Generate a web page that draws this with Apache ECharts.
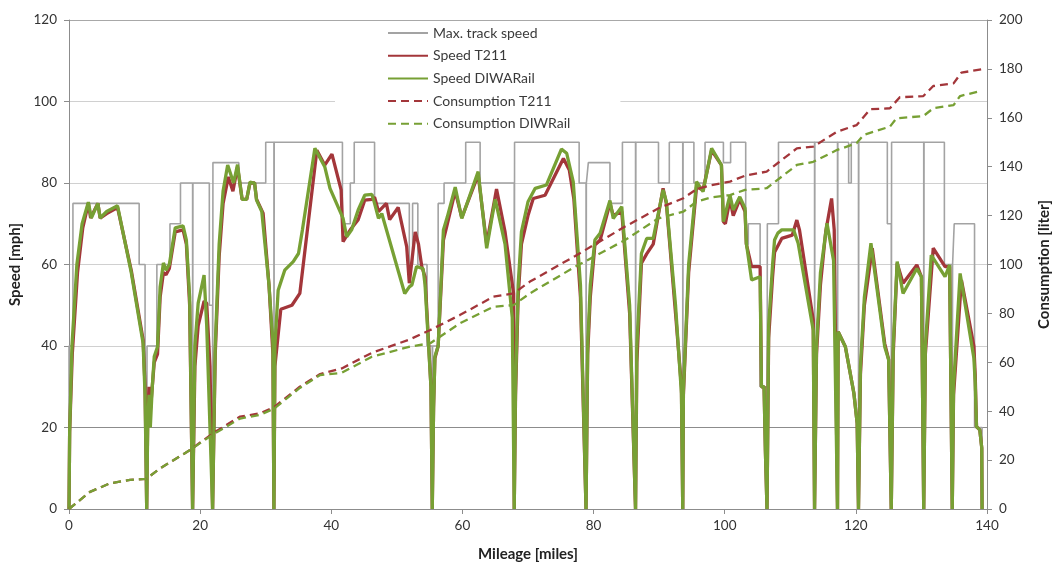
<!DOCTYPE html>
<html>
<head>
<meta charset="utf-8">
<script src="https://cdn.jsdelivr.net/npm/echarts@6/dist/echarts.min.js"></script>
<style>html,body{margin:0;padding:0;background:#fff}#c{width:1053px;height:562px}</style>
</head>
<body>
<div id="c"></div>
<script>
// [mileage, mph]
const trackSpeed = [
[0,0],[0,40],[0.6,40],[0.6,75],[10.7,75],[10.7,60],[11.6,60],[11.6,40],[11.85,40],[11.85,0],[11.9,0],[11.9,40],[13.4,40],[13.4,60],[15.4,60],[15.4,70],[17.0,70],[17.0,80],[18.85,80],[18.85,0],[18.9,0],[18.9,80],[21.4,80],[21.4,50],[21.9,50],[21.9,0],[21.95,0],[21.95,85],[25.9,85],[25.9,80],[30.0,80],[30.0,90],[31.25,90],[31.25,0],[31.3,0],[31.3,90],[41.7,90],[41.7,70],[42.9,70],[42.9,80],[43.5,80],[43.5,90],[46.6,90],[46.6,75],[51.9,75],[51.9,60],[52.4,60],[52.4,75],[53.2,75],[53.2,60],[54.6,60],[54.6,40],[55.4,40],[55.4,0],[55.45,0],[55.45,40],[56.3,40],[56.3,75],[57.2,75],[57.2,80],[60.5,80],[60.5,90],[62.7,90],[62.7,80],[67.9,80],[67.9,0],[67.95,0],[67.95,90],[77.8,90],[77.8,80],[78.85,80],[78.85,0],[78.9,0],[78.9,80],[79.2,80],[79.2,85],[82.5,85],[82.5,75],[84.4,75],[84.4,90],[86.4,90],[86.4,0],[86.45,0],[86.45,90],[89.9,90],[89.9,80],[91.55,80],[91.55,90],[93.6,90],[93.6,0],[93.65,0],[93.65,90],[95.3,90],[95.3,80],[97.0,80],[97.0,90],[99.8,90],[99.8,85],[100.9,85],[100.9,90],[103.2,90],[103.2,65],[103.6,65],[103.6,70],[105.4,70],[105.4,30],[106.45,30],[106.45,0],[106.5,0],[106.5,70],[108.2,70],[108.2,90],[113.7,90],[113.7,0],[113.75,0],[113.75,90],[117.2,90],[117.2,0],[117.25,0],[117.25,90],[118.9,90],[118.9,80],[119.3,80],[119.3,90],[120.4,90],[120.4,0],[120.45,0],[120.45,90],[124.8,90],[124.8,70],[125.4,70],[125.4,0],[125.45,0],[125.45,90],[130.35,90],[130.35,0],[130.4,0],[130.4,90],[133.5,90],[133.5,60],[134.7,60],[134.7,0],[134.75,0],[134.75,60],[135.0,60],[135.0,70],[138.1,70],[138.1,20],[139.25,20],[139.25,0]
];
const speedT211 = [
[0,0],[0.1,19],[0.5,38],[1.3,58],[2.1,69],[2.95,75],[3.3,71.4],[4.4,75],[4.75,71.4],[5.75,72.5],[7.4,74],[9.5,58.5],[11.3,41.5],[11.6,30],[11.85,0],
[12.0,22],[12.2,30],[12.4,24],[12.7,30],[13.0,36],[13.5,38],[13.9,52],[14.4,58],[14.8,57.5],[15.3,59],[16.2,68],[17.4,68.5],[17.9,65],[18.4,50],[18.85,0],
[19.2,35],[19.7,45],[20.6,51],[21.0,50.5],[21.5,35],[21.9,0],
[22.3,38],[22.9,62],[23.5,75],[24.3,81.5],[25.0,78],[25.7,84],[26.4,76],[27.1,76],[27.6,80],[28.3,80],[28.6,76],[29.6,72.6],[30.5,55],[31.1,38],[31.25,0],
[31.4,35],[32.3,49],[34.0,50],[35.2,52.9],[37.8,88],[39.0,84.4],[40.1,87.1],[41.5,78.3],[41.8,65.6],[42.9,68.5],[44.1,71],[45.1,75.8],[46.2,76],[46.6,76.5],[47.2,73],[48.4,75],[48.9,71],[50.2,74],[51.5,64.4],[51.9,55.4],[52.8,68],[53.3,65],[53.8,59.5],[54.3,57],[55.2,30],[55.4,0],
[55.6,25],[55.8,37],[56.3,40],[57.1,66],[57.7,70],[58.9,78],[59.9,71.5],[62.4,82],[63.7,65],[65.2,78.5],[66.5,68],[67.8,52.9],[67.9,0],
[68.1,28],[68.5,52],[69.0,65],[70.0,72],[70.8,76.2],[72.6,77],[75.4,86],[76.3,83.2],[77.0,76],[78.0,52],[78.85,0],
[79.1,38],[79.5,52],[80.2,64.8],[81.0,66],[82.5,75],[83.0,72],[84.3,73],[85.5,48],[86.4,0],
[86.6,36],[87.3,60.3],[88.1,62.6],[89.1,65],[90.6,78.7],[91.1,75],[92.5,48],[93.4,30],[93.6,0],
[93.7,28],[94.5,58],[95.7,79],[96.7,78.3],[98.0,88],[99.5,84.4],[99.8,70.5],[100.1,70],[100.8,76],[101.3,72],[102.3,76],[103.1,73],[103.3,65],[104.1,59.5],[105.4,59.5],[105.6,30],[106.0,30],[106.2,14.5],[106.45,0],
[106.7,42],[107.3,57],[107.6,63],[108.7,66.4],[110.3,67.2],[111.0,70.9],[111.4,68.5],[113.5,46.4],[113.7,0],
[114.0,38],[114.6,55],[115.4,68],[116.3,76.2],[116.7,68.5],[117.2,0],
[117.3,43.5],[118.4,39.8],[119.7,28.4],[120.2,21],[120.4,0],
[120.7,33],[121.3,50],[122.5,64],[124.4,40.6],[125.0,36.7],[125.4,0],
[125.7,38],[126.3,60.3],[127.2,55.4],[129.3,59.9],[130.0,57],[130.35,0],
[130.6,38],[131.8,64],[133.6,59.5],[134.3,59.5],[134.7,0],
[134.9,28],[136.1,56.2],[138.0,40],[138.2,33],[138.4,20.2],[138.9,19.4],[139.2,15],[139.25,0]
];
const speedDIWARail = [
[0,0],[0.1,19],[0.45,40],[1.2,60],[2.0,70],[2.95,75.3],[3.4,71.4],[4.4,75],[4.75,71.4],[5.75,73],[7.4,74.4],[9.5,58],[11.3,40.7],[11.6,28],[11.85,0],
[12.0,20],[12.2,28],[12.4,20],[12.7,30],[13.0,37.4],[13.5,39.8],[13.9,54.5],[14.4,60.4],[14.8,58.6],[15.3,60],[16.2,69],[17.4,69.5],[17.9,66],[18.4,52],[18.85,0],
[19.2,40],[19.7,50.5],[20.6,57.4],[21.0,45],[21.9,0],
[22.3,40],[22.9,65],[23.5,78],[24.2,84.4],[25.1,80],[25.7,84.5],[26.4,76],[27.1,76],[27.6,80.2],[28.3,80],[28.6,75.8],[29.4,73],[30.5,55],[31.1,40.7],[31.25,0],
[31.4,40],[31.9,53.7],[32.9,58.6],[34.2,60.7],[35.0,62.7],[35.6,68.5],[37.5,88.5],[39.0,84],[39.8,78.7],[41.8,71.3],[42.35,66.8],[43.1,68.5],[44.1,73.4],[45.1,77],[46.2,77.2],[46.6,75],[47.2,71.3],[47.7,72.5],[51.2,52.9],[51.9,54.5],[52.3,55],[53.0,59.5],[54.0,59],[54.3,55],[55.2,30],[55.4,0],
[55.6,25],[55.8,37.4],[56.3,40],[57.1,68.5],[57.7,71.7],[58.9,79],[59.9,71.3],[62.4,82.8],[63.7,64],[65.0,76],[66.5,65],[67.6,47],[67.9,0],
[68.1,30],[68.5,55],[69.0,68],[70.0,75.4],[71.1,78.7],[72.8,79.5],[75.1,88.3],[75.9,87.3],[76.9,80.3],[78.0,55],[78.85,0],
[79.1,40],[79.5,55],[80.2,66],[81.0,67.7],[82.5,75.7],[83.0,71.3],[84.3,74.2],[85.5,50],[86.4,0],
[86.6,40],[87.3,62.7],[88.1,66.4],[89.1,66.4],[90.6,78.3],[91.1,75.4],[92.5,50],[93.4,28.4],[93.6,0],
[93.7,29],[94.5,60],[95.7,80.3],[96.7,77.9],[98.0,88.5],[99.5,84.4],[99.8,70.5],[100.1,70.1],[100.8,77],[101.3,73.4],[102.3,76.6],[103.1,73.8],[103.3,65.2],[104.1,56.2],[105.4,57],[105.6,30],[106.0,30],[106.2,14.5],[106.45,0],
[106.7,45],[107.3,60],[107.6,66],[108.1,67.7],[108.7,68.5],[110.5,68.5],[111.2,65.2],[113.5,43.9],[113.7,0],
[114.0,40],[114.6,58],[115.6,70.1],[116.6,61],[117.2,0],
[117.3,43.5],[118.4,39.8],[119.7,28.4],[120.2,21],[120.4,0],
[120.7,35],[121.3,52],[122.3,65.2],[124.4,39.8],[125.0,36.6],[125.4,0],
[125.7,40],[126.3,60.7],[127.2,52.9],[129.3,59],[130.0,57],[130.35,0],
[130.6,40],[131.5,62.3],[133.6,57],[134.3,59.9],[134.7,0],
[134.9,30],[135.9,57.8],[138.0,37],[138.2,31],[138.4,20.2],[138.9,19.4],[139.2,15],[139.25,0]
];
// [mileage, liter]
const consT211 = [
[0,0],[3.2,7],[6.25,10.5],[9.3,11.9],[11.75,12.3],[13.9,16.6],[18.45,24.1],[21.95,31],[26.1,37.8],[29.1,39.1],[31.25,41.6],[35.2,50],[38.3,55.2],[41.6,57.5],[46.2,63.9],[52.0,69.4],[55.1,73.2],[59.6,79.3],[64.7,86.8],[67.8,88.2],[70.3,93],[77.2,103.5],[84.8,115.5],[89.9,123],[93.7,127.1],[95.7,130.8],[98.0,132.5],[100.8,133.9],[103.1,136.3],[106.4,138],[111.0,147.5],[113.5,148.2],[117.1,154.3],[120.1,157],[122.2,163.5],[125.2,163.9],[126.7,168.4],[130.3,168.9],[131.8,173],[134.9,174.1],[136.1,178.5],[139.2,179.8]
];
const consDIWRail = [
[0,0],[3.2,7],[6.25,10.5],[9.3,11.9],[11.75,12.3],[13.9,16.6],[18.45,24.1],[21.95,30.5],[26.1,37],[29.1,38.5],[31.25,41],[35.2,49.5],[38.3,54.8],[41.6,55.7],[46.2,62.3],[52.0,66.4],[55.1,67.8],[59.6,75.9],[64.7,82.7],[67.8,83.4],[70.3,88.2],[77.2,99.1],[84.8,110],[89.9,118.9],[93.7,121.6],[95.7,125.7],[98.0,127.5],[100.8,128.4],[103.1,130.5],[106.4,131.2],[111.0,140.7],[113.5,142],[117.1,146.8],[120.1,149.6],[121.2,153],[125.2,156.4],[126.2,159.8],[130.3,160.7],[131.8,163.9],[134.9,165.2],[135.9,168.9],[139.2,171.1]
];
const speedTicks = [0,20,40,60,80,100,120];
const consTicks = [0,20,40,60,80,100,120,140,160,180,200];
const mileTicks = [0,20,40,60,80,100,120,140];

const FONT = 'Lato, "Open Sans", sans-serif';
const RED = '#a3363a', GREEN = '#77a034', GRAY = '#a3a3a3';
const chart = echarts.init(document.getElementById('c'));
chart.setOption({
  animation: false,
  backgroundColor: '#fff',
  textStyle: {fontFamily: FONT},
  grid: {left: 69, right: 66, top: 20, bottom: 53, containLabel: false, outerBoundsMode: 'none'},
  legend: {
    orient: 'vertical', left: 335, top: 22,
    padding: [4, 50, 4, 52], itemGap: 8.7, itemWidth: 40, itemHeight: 14,
    backgroundColor: '#fff',
    itemStyle: {opacity: 0},
    textStyle: {fontFamily: FONT, fontSize: 14, color: '#3a3a3a'},
    data: ['Max. track speed', 'Speed T211', 'Speed DIWARail', 'Consumption T211', 'Consumption DIWRail']
  },
  xAxis: {
    type: 'value', min: mileTicks[0], max: mileTicks[mileTicks.length-1], interval: 20,
    name: 'Mileage [miles]', nameLocation: 'middle', nameGap: 38,
    nameTextStyle: {fontFamily: FONT, fontSize: 15, fontWeight: 'bold', color: '#222'},
    axisLine: {lineStyle: {color: '#8c8c8c'}},
    axisTick: {show: true, length: 5, lineStyle: {color: '#8c8c8c'}},
    axisLabel: {fontSize: 13.5, color: '#333', margin: 10},
    splitLine: {show: false}
  },
  yAxis: [{
    type: 'value', min: speedTicks[0], max: speedTicks[speedTicks.length-1], interval: 20,
    name: 'Speed [mph]', nameLocation: 'middle', nameGap: 45,
    nameTextStyle: {fontFamily: FONT, fontSize: 15, fontWeight: 'bold', color: '#222'},
    axisLine: {show: true, lineStyle: {color: '#8c8c8c'}},
    axisTick: {show: true, length: 5, lineStyle: {color: '#8c8c8c'}},
    axisLabel: {fontSize: 13.5, color: '#333', margin: 12},
    splitLine: {show: true, lineStyle: {color: ['#8c8c8c', '#8c8c8c', '#d0d0d0', '#d0d0d0', '#d0d0d0', '#d0d0d0', '#a8a8a8'], width: 1}}
  }, {
    type: 'value', min: consTicks[0], max: consTicks[consTicks.length-1], interval: 20,
    name: 'Consumption [liter]', nameLocation: 'middle', nameGap: 50,
    nameTextStyle: {fontFamily: FONT, fontSize: 15, fontWeight: 'bold', color: '#222'},
    axisLine: {show: true, lineStyle: {color: '#8c8c8c'}},
    axisTick: {show: true, length: 5, lineStyle: {color: '#8c8c8c'}},
    axisLabel: {fontSize: 13.5, color: '#333', margin: 12},
    splitLine: {show: false}
  }],
  series: [
    {name: 'Max. track speed', type: 'line', data: trackSpeed, yAxisIndex: 0, symbol: 'none', z: 2,
     lineStyle: {color: GRAY, width: 1.6}, itemStyle: {color: GRAY}},
    {name: 'Speed T211', type: 'line', data: speedT211, yAxisIndex: 0, symbol: 'none', z: 3,
     lineStyle: {color: RED, width: 3.3}, itemStyle: {color: RED}},
    {name: 'Speed DIWARail', type: 'line', data: speedDIWARail, yAxisIndex: 0, symbol: 'none', z: 4,
     lineStyle: {color: GREEN, width: 3.3}, itemStyle: {color: GREEN}},
    {name: 'Consumption T211', type: 'line', data: consT211, yAxisIndex: 1, symbol: 'none', z: 5,
     lineStyle: {color: RED, width: 2.3, type: [8, 5]}, itemStyle: {color: RED}},
    {name: 'Consumption DIWRail', type: 'line', data: consDIWRail, yAxisIndex: 1, symbol: 'none', z: 5,
     lineStyle: {color: GREEN, width: 2.3, type: [8, 5]}, itemStyle: {color: GREEN}}
  ]
});
</script>
</body>
</html>
